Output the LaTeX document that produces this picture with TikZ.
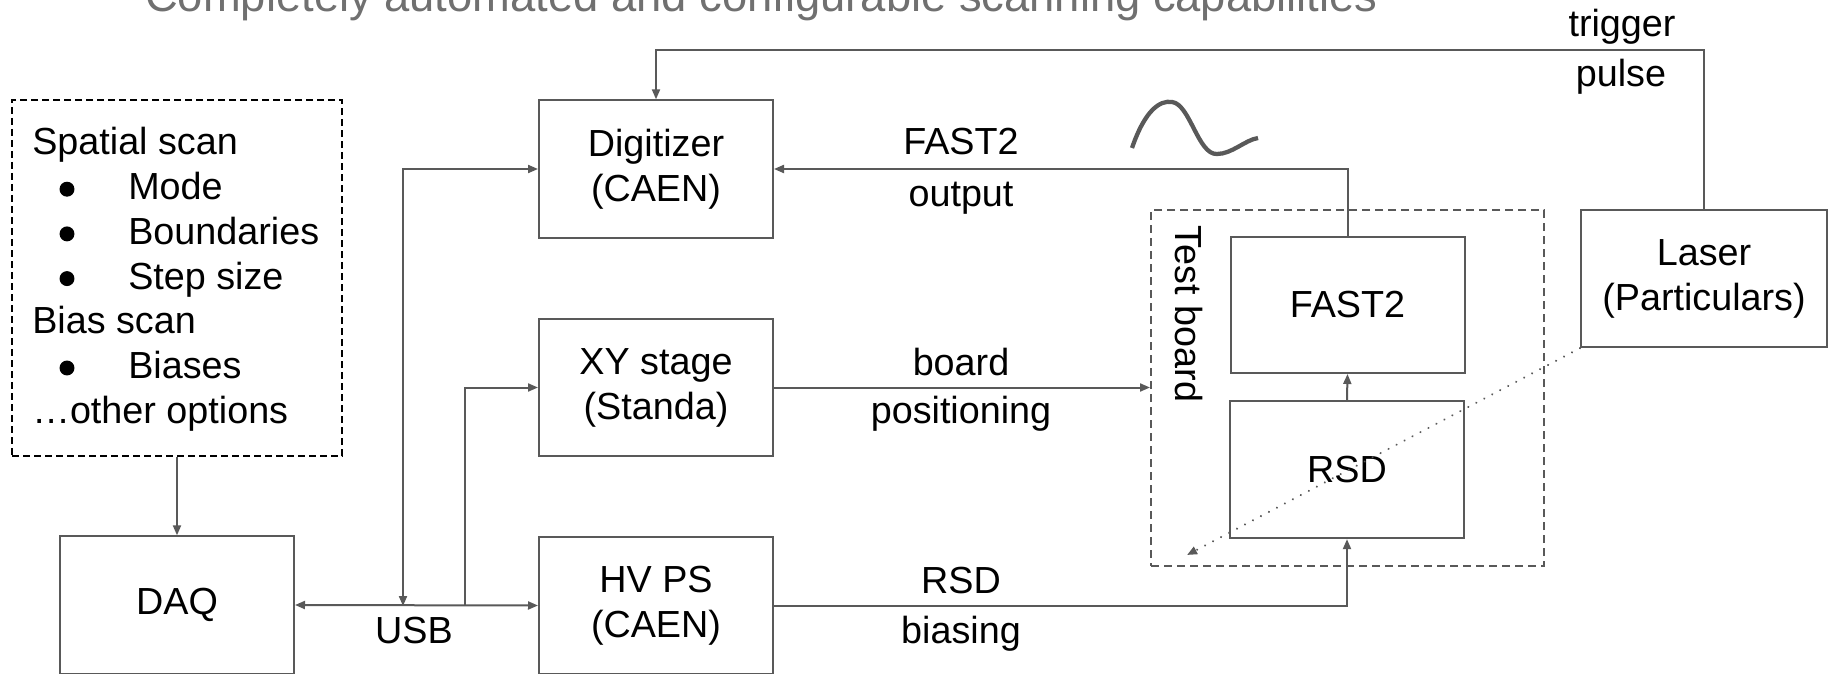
\documentclass[tikz,border=0pt]{standalone}
\usepackage{fontspec}
\setmainfont{Liberation Sans}
\usetikzlibrary{arrows.meta}
\definecolor{lg}{HTML}{595959}
\definecolor{tg}{HTML}{707070}
\tikzset{
  tip/.tip={Triangle[length=7.5pt,width=6pt]},
  box/.style={draw=lg, line width=1.5pt, align=center, minimum width=175.5pt, minimum height=103pt},
  optbox/.style={draw=black, line width=1.5pt, dash pattern=on 5.25pt off 3pt, minimum width=247.5pt, minimum height=267pt},
  tbbox/.style={draw=lg, line width=1.5pt, dash pattern=on 6pt off 3.75pt, minimum width=294.75pt, minimum height=267pt},
  arr/.style={draw=lg, line width=1.5pt, -tip},
  arrboth/.style={draw=lg, line width=1.5pt, tip-tip},
  dotarr/.style={draw=lg, line width=1.7pt, line cap=round, dash pattern=on 0.01pt off 6.75pt, -tip},
  wave/.style={draw=lg, line width=3.2pt, line cap=butt},
  lbl/.style={anchor=base},
  opt/.style={anchor=base west},
  titletext/.style={anchor=base west, text=tg, font=\fontsize{34}{40}\selectfont}
}
\begin{document}
\begin{tikzpicture}[x=0.75pt,y=-0.75pt,
  every node/.style={inner sep=0pt, font=\fontsize{28.3}{33.75}\selectfont, text=black}]
\clip (0,0) rectangle (1829,674);
\fill[white] (0,0) rectangle (1829,674);

% title (cut off at the top, as in the original)
\node[titletext] (title) at (145,12) {Completely automated and configurable scanning capabilities};

% options box
\node[optbox] (opts) at (177,278) {};
\node[opt] (o1) at (32,155) {Spatial scan};
\node[opt] (o2) at (128,199.7) {Mode};
\node[opt] (o3) at (128,244.4) {Boundaries};
\node[opt] (o4) at (128,289.1) {Step size};
\node[opt] (o5) at (32,333.8) {Bias scan};
\node[opt] (o6) at (128,378.5) {Biases};
\node[opt] (o7) at (32,423.2) {…other options};
\foreach \b in {199.7,244.4,289.1,378.5}
  \fill[black] (67,\b-10.5) circle[radius=5.6pt];

% main boxes
\node[box] (daq) at (177,605) {DAQ};
\node[box] (dig) at (656,169) {Digitizer\\(CAEN)};
\node[box] (xy) at (656,387.5) {XY stage\\(Standa)};
\node[box] (hv) at (656,605.5) {HV PS\\(CAEN)};
\node[tbbox] (tb) at (1347.5,388) {};
\node[rotate=-90, anchor=base] (tblabel) at (1175,314) {Test board};
\node[box, minimum height=102pt] (fast) at (1347.5,305) {FAST2};
\node[box] (rsd) at (1347,469.5) {RSD};
\node[box, minimum width=184.5pt] (laser) at (1704,278.5) {Laser\\(Particulars)};

% junctions on the USB line
\coordinate (j1) at (403,606);
\coordinate (j2) at (465,606);
\coordinate (spot) at (1187,555);

% connectors
\draw[arr] (opts.south) -- (daq.north);
\draw[arrboth] (daq.east) -- (hv.west);
\draw[arrboth] (j1) |- (dig.west);
\draw[arr] (j2) |- (xy.west);
\draw[arr] (laser.north) -- ++(0,-159) -| (dig.north);
\draw[arr] (fast.north) |- (dig.east);
\draw[arr] (xy.east) -- (xy.east -| tb.west);
\draw[arr] (hv.east) -| (rsd.south);
\draw[arr] (rsd.north) -- (fast.south);
\draw[dotarr] (laser.south west) -- (spot);

% signal wave
\draw[wave] (1132,148) .. controls (1145,110) and (1160,100) .. (1172,102)
  .. controls (1190,104) and (1198,155) .. (1217,154)
  .. controls (1232,154) and (1245,140) .. (1258,138);

% labels
\node[lbl] (lfast) at (961,155) {FAST2};
\node[lbl] (lout) at (961,206) {output};
\node[lbl] (lboard) at (961,375) {board};
\node[lbl] (lpos) at (961,423) {positioning};
\node[lbl] (lrsd) at (961,593) {RSD};
\node[lbl] (lbias) at (961,643) {biasing};
\node[lbl] (lusb) at (414,643) {USB};
\node[lbl] (ltrig) at (1622,37) {trigger};
\node[lbl] (lpulse) at (1621,87) {pulse};
\end{tikzpicture}
\end{document}
